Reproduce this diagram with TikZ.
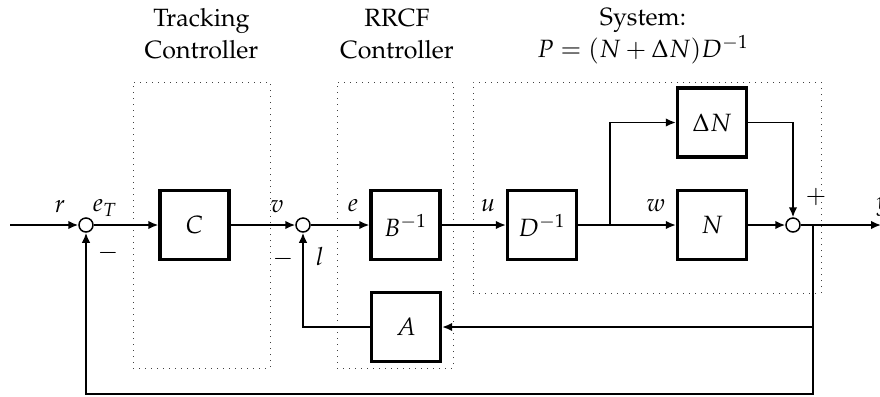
\documentclass[tikz,border=0pt]{standalone}
\usepackage[T1]{fontenc}
\usepackage{mathpazo}
\usetikzlibrary{arrows.meta,fit}
\begin{document}
\begin{tikzpicture}[x=0.4pt,y=-0.4pt,
  blk/.style={draw, line width=1.3pt, minimum width=27.6pt, minimum height=27.6pt, inner sep=0pt, fill=white},
  sumc/.style={draw, circle, minimum size=5.6pt, inner sep=0pt, line width=0.6pt, fill=white},
  conn/.style={line width=0.7pt, line join=miter, -{Latex[length=4pt,width=3.4pt]}},
  plain/.style={line width=0.7pt},
  grp/.style={draw=black!75, dotted, line width=0.4pt, inner sep=0pt},
  title/.style={align=center, inner sep=0pt, font=\fontsize{10}{12.8}\selectfont},
  lbl/.style={inner sep=0pt}]
\useasboundingbox (0,0) rectangle (880,396);
% groups
\node[grp, fit={(133,82) (270,368)}] (trk) {};
\node[grp, fit={(337,82) (453,368)}] (rrcf) {};
\node[grp, fit={(473,82) (821,293)}] (sys) {};
\node[title] (ttrk) at (201.5,34) {Tracking\\Controller};
\node[title] (trrcf) at (397,34) {RRCF\\Controller};
\node[title] (tsys) at (643,36) {System:\\$P=(N+\Delta N)D^{-1}$};
% blocks
\coordinate (in) at (10,225);
\node[sumc] (s1) at (86,225) {};
\node[blk] (C) at (194.5,225) {$C$};
\node[sumc] (s2) at (303,225) {};
\node[blk] (B) at (405.5,225) {$B^{-1}$};
\node[blk] (D) at (542,225) {$D^{-1}$};
\coordinate (br) at (610,225);
\node[blk] (dN) at (712,122.5) {$\Delta N$};
\node[blk] (N) at (712,225) {$N$};
\node[sumc] (s3) at (793,225) {};
\coordinate (tap) at (813,225);
\coordinate (out) at (881,225);
\node[blk] (A) at (406,327) {$A$};
\coordinate (fbO) at (813,394);
% connectors
\draw[conn] (in) -- (s1);
\draw[conn] (s1) -- (C);
\draw[conn] (C) -- (s2);
\draw[conn] (s2) -- (B);
\draw[conn] (B) -- (D);
\draw[plain] (D) -- (br);
\draw[conn] (br) -- (N);
\draw[conn] (br) |- (dN);
\draw[conn] (N) -- (s3);
\draw[conn] (dN) -| (s3);
\draw[conn] (s3) -- (out);
\draw[conn] (tap) |- (A);
\draw[conn] (A) -| (s2);
\draw[conn] (tap) -- (fbO) -| (s1);
% labels
\node[lbl] (lr) at (60,207) {$r$};
\node[lbl] (leT) at (105,208) {$e_T$};
\node[lbl] (lm1) at (108,253) {$-$};
\node[lbl] (lv) at (277,207) {$v$};
\node[lbl] (lm2) at (283,259) {$-$};
\node[lbl] (ll) at (320,257) {$l$};
\node[lbl] (le) at (353,206) {$e$};
\node[lbl] (lu) at (488,206) {$u$};
\node[lbl] (lw) at (656,206) {$w$};
\node[lbl] (lp) at (816,197) {$+$};
\node[lbl] (ly) at (883,207) {$y$};
\end{tikzpicture}
\end{document}
